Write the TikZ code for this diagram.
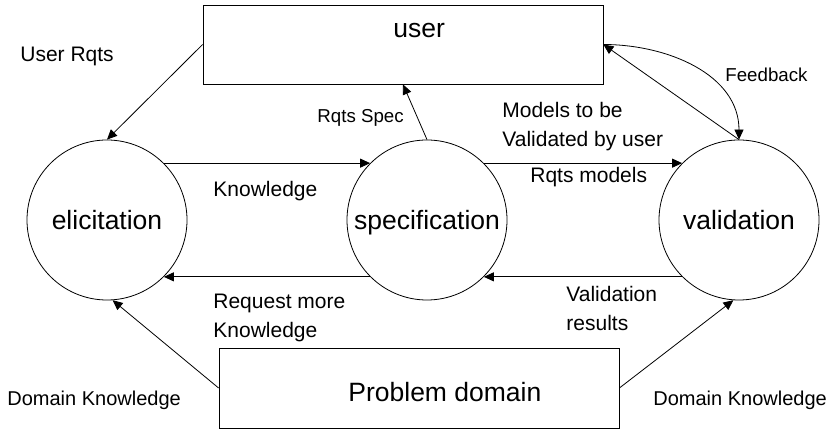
\documentclass[tikz,border=0pt]{standalone}
\usepackage{fontspec}
\setmainfont{Liberation Sans}
\usetikzlibrary{arrows.meta}

\begin{document}
\begin{tikzpicture}[x=1pt,y=-1pt,line width=0.8pt,
        phase/.style={draw,circle,minimum size=160pt,inner sep=0pt,text depth=0pt,font=\fontsize{26.5}{30}\selectfont},
        box/.style={draw,rectangle,minimum width=400pt,minimum height=79pt,inner sep=0pt},
        big/.style={inner sep=0pt,anchor=base west,font=\fontsize{26.5}{30}\selectfont},
        lbl/.style={inner sep=0pt,anchor=base west,align=left,font=\fontsize{21}{29}\selectfont},
        small/.style={inner sep=0pt,anchor=base west,font=\fontsize{18.7}{24}\selectfont},
        arr/.style={-{Triangle[length=10pt,width=9pt]}}]
        \useasboundingbox (0,0) rectangle (833,430);

        % boxes
        \node[box] (user) at (403,44.5) {};
        \node[box,minimum height=80pt] (domain) at (419,388) {};
        \node[big] (usertext) at (393,38) {user};
        \node[big] (domaintext) at (348,402) {Problem domain};

        % phases
        \node[phase] (elicit) at (107,220) {elicitation};
        \node[phase] (spec) at (427,220) {specification};
        \node[phase] (valid) at (739,220) {validation};

        % flows
        \draw[arr] (user.west) -- (elicit.north);
        \draw[arr] (spec.north) -- (user.south);
        \draw[arr] (elicit.45) -- (spec.135);
        \draw[arr] (spec.45) -- (valid.135);
        \draw[arr] (spec.-135) -- (elicit.-45);
        \draw[arr] (valid.-135) -- (spec.-45);
        \draw[arr] (valid.north) -- (user.east);
        \draw[arr] (user.east) to[out=0,in=90] (valid.north);
        \draw[arr] (domain.west) -- (elicit.-86);
        \draw[arr] (domain.east) -- (valid.-94);

        % labels
        \node[lbl] (userrqts) at (20,62) {User Rqts};
        \node[small] (rqtsspec) at (317,123) {Rqts Spec};
        \node[lbl] (knowledge) at (213,197) {Knowledge};
        \node[lbl] (tobevalid) at (502,147) {Models to be\\Validated by user};
        \node[lbl] (rqtsmodels) at (530,183) {Rqts models};
        \node[small] (feedback) at (725,82) {Feedback};
        \node[lbl] (request) at (213,338) {Request more\\Knowledge};
        \node[lbl] (results) at (566,331) {Validation\\results};
        \node[lbl,font=\fontsize{20}{24}\selectfont] (domainleft) at (7,406) {Domain Knowledge};
        \node[lbl,font=\fontsize{20}{24}\selectfont] (domainright) at (653,406) {Domain Knowledge};
    \end{tikzpicture}
\end{document}
